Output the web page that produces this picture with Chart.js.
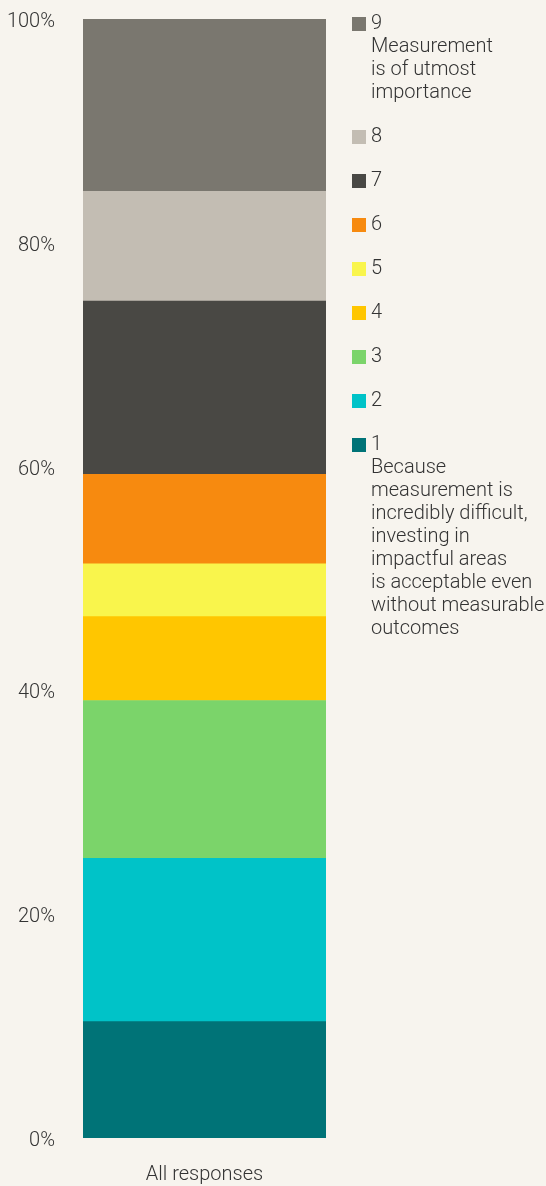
<!DOCTYPE html>
<html>
<head>
<meta charset="utf-8">
<script src="https://cdn.jsdelivr.net/npm/chart.js@4"></script>
<style>
  html, body { margin: 0; padding: 0; background: #f7f4ee; }
  #wrap { width: 546px; height: 1186px; position: relative; }
</style>
</head>
<body>
<div id="wrap"><canvas id="myChart" width="546" height="1186"></canvas></div>
<script>
// categories and series (share of responses, %)
var categories = ["All responses"];
var scores = ["1", "2", "3", "4", "5", "6", "7", "8", "9"];
var shares = [10.4, 14.6, 14.1, 7.5, 4.7, 8.0, 15.5, 9.8, 15.4];
var yTicks = [0, 20, 40, 60, 80, 100];

// extra legend text under the score number
var scoreNotes = {
  "9": ["Measurement", "is of utmost", "importance"],
  "1": ["Because", "measurement is", "incredibly difficult,", "investing in", "impactful areas", "is acceptable even", "without measurable", "outcomes"]
};

var colors = ["#007377", "#00c3c8", "#7bd46a", "#ffc600", "#f9f54c", "#f78a0f", "#494844", "#c3bdb3", "#7a776f"];

var FONT = "'Liberation Sans Narrow', 'Roboto', sans-serif";
var TEXT = "#333333";

var datasets = [];
for (var i = 0; i < scores.length; i++) {
  datasets.push({
    label: scores[i],
    data: [shares[i]],
    backgroundColor: colors[i],
    borderWidth: 0,
    barPercentage: 1,
    categoryPercentage: 1
  });
}

// legend drawn by hand on the right (multi-line labels)
var sideLegend = {
  id: "sideLegend",
  afterDraw: function (chart) {
    var ctx = chart.ctx;
    var y = 24;
    var lineH = 23;
    ctx.save();
    ctx.font = "300 20px " + FONT;
    ctx.textBaseline = "middle";
    ctx.textAlign = "left";
    for (var i = chart.data.datasets.length - 1; i >= 0; i--) {
      var ds = chart.data.datasets[i];
      var lines = [ds.label].concat(scoreNotes[ds.label] || []);
      ctx.fillStyle = ds.backgroundColor;
      ctx.fillRect(352, y - 7, 14, 14);
      ctx.fillStyle = TEXT;
      for (var k = 0; k < lines.length; k++) {
        ctx.fillText(lines[k], 371, y + k * lineH);
      }
      y += (lines.length - 1) * lineH + 44;
    }
    ctx.restore();
  }
};

var ctx = document.getElementById("myChart").getContext("2d");
var myChart = new Chart(ctx, {
  type: "bar",
  data: { labels: categories, datasets: datasets },
  options: {
    responsive: false,
    animation: false,
    layout: { padding: { top: 0, right: 220, left: 0, bottom: 0 } },
    plugins: { legend: { display: false }, tooltip: { enabled: false } },
    scales: {
      x: {
        stacked: true,
        grid: { display: false, drawTicks: false },
        border: { display: false },
        ticks: { color: TEXT, font: { family: FONT, size: 20, weight: 300 }, padding: 25 },
        afterFit: function (s) { s.height = 48; }
      },
      y: {
        stacked: true,
        min: 0,
        max: 100,
        afterBuildTicks: function (s) { s.ticks = yTicks.map(function (v) { return { value: v }; }); },
        grid: { display: false, drawTicks: false },
        border: { display: false },
        ticks: {
          color: TEXT,
          font: { family: FONT, size: 20, weight: 300 },
          padding: 28,
          labelOffset: 3,
          callback: function (v) { return v + "%"; }
        },
        afterFit: function (s) {
          s.width = 83;
          s.paddingTop = 19; // tick padding would otherwise push the plot down
          s.paddingBottom = 0;
        }
      }
    }
  },
  plugins: [sideLegend]
});
</script>
</body>
</html>
